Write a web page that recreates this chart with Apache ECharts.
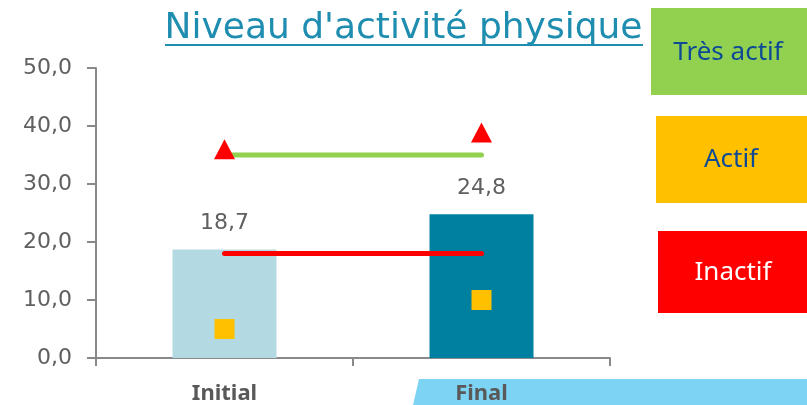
<!DOCTYPE html>
<html>
<head>
<meta charset="utf-8">
<script src="https://cdn.jsdelivr.net/npm/echarts@6/dist/echarts.min.js"></script>
<style>
  html, body { margin: 0; padding: 0; background: #fff; }
  #chart { width: 807px; height: 405px; }
</style>
</head>
<body>
<div id="chart"></div>
<script>
// data
var categories = ['Initial', 'Final'];
var moyenne = [18.7, 24.8];        // bars
var tresActif = [36.0, 38.9];      // red triangles
var actif = [5.0, 10.0];           // orange squares
var seuilHaut = [35, 35];          // green line
var seuilBas = [18, 18];           // red line
var yTicks = [0, 10, 20, 30, 40, 50];
var legendLabels = ['Très actif', 'Actif', 'Inactif'];

var barColors = ['#b3dae2', '#0080a0'];
var grey = '#595959';
var numFont = '"DejaVu Sans", sans-serif';
var txtFont = '"Noto Sans", "Open Sans", sans-serif';

function fr(v) {
  return v.toFixed(1).replace('.', ',');
}

var chartDom = document.getElementById('chart');
var myChart = echarts.init(chartDom);
var option;

option = {
  animation: false,
  title: {
    text: "Niveau d'activité physique",
    left: 'center',
    top: 6,
    textStyle: {
      color: '#1e8db0',
      fontSize: 36,
      fontWeight: 'normal',
      fontFamily: numFont
    }
  },
  grid: {
    left: 96,
    right: 197,
    top: 68,
    bottom: 47
  },
  xAxis: {
    type: 'category',
    data: categories,
    axisLine: { lineStyle: { color: '#898989', width: 2 } },
    axisTick: { show: true, length: 8, lineStyle: { color: '#898989', width: 2 } },
    axisLabel: {
      color: grey,
      fontSize: 22,
      fontWeight: 'bold',
      fontFamily: txtFont,
      margin: 25
    }
  },
  yAxis: {
    type: 'value',
    min: yTicks[0],
    max: yTicks[yTicks.length - 1],
    interval: 10,
    splitLine: { show: false },
    axisLine: { show: true, lineStyle: { color: '#898989', width: 2 } },
    axisTick: { show: true, length: 9, lineStyle: { color: '#898989', width: 2 } },
    axisLabel: {
      color: '#606060',
      fontSize: 22,
      fontFamily: numFont,
      margin: 24,
      formatter: function (v) { return fr(v); }
    }
  },
  graphic: [
    // underline of the title
    { type: 'line', shape: { x1: 165, y1: 45, x2: 643, y2: 45 },
      style: { stroke: '#1e8db0', lineWidth: 2 } },
    // ribbon behind "Final"
    { type: 'polygon', z: -1, shape: { points: [[419, 379], [807, 379], [807, 405], [413, 405]] },
      style: { fill: '#7dd3f3' } },
    // colour key boxes
    { type: 'rect', shape: { x: 651, y: 8, width: 156, height: 87 }, style: { fill: '#92d050' } },
    { type: 'text', x: 728, y: 53, style: { text: legendLabels[0], fill: '#0d4a96', fontSize: 26,
      fontFamily: txtFont, align: 'center', verticalAlign: 'middle' } },
    { type: 'rect', shape: { x: 656, y: 116, width: 151, height: 87 }, style: { fill: '#ffc000' } },
    { type: 'text', x: 731, y: 160, style: { text: legendLabels[1], fill: '#0d4a96', fontSize: 26,
      fontFamily: txtFont, align: 'center', verticalAlign: 'middle' } },
    { type: 'rect', shape: { x: 658, y: 231, width: 149, height: 82 }, style: { fill: '#ff0000' } },
    { type: 'text', x: 733, y: 273, style: { text: legendLabels[2], fill: '#ffffff', fontSize: 26,
      fontFamily: txtFont, align: 'center', verticalAlign: 'middle' } }
  ],
  series: [
    {
      type: 'bar',
      barWidth: 104,
      data: moyenne,
      itemStyle: {
        color: function (p) { return barColors[p.dataIndex]; }
      },
      label: {
        show: true,
        position: 'top',
        distance: 15,
        color: '#606060',
        fontSize: 22,
        fontFamily: numFont,
        formatter: function (p) { return fr(p.value); }
      }
    },
    {
      type: 'line',
      data: seuilHaut,
      symbol: 'none',
      lineStyle: { color: '#92d050', width: 5, cap: 'round' },
      z: 3
    },
    {
      type: 'line',
      data: seuilBas,
      symbol: 'none',
      lineStyle: { color: '#ff0000', width: 5, cap: 'round' },
      z: 3
    },
    {
      type: 'scatter',
      data: tresActif,
      symbol: 'triangle',
      symbolSize: [21, 20],
      itemStyle: { color: '#ff0000', opacity: 1 },
      z: 4
    },
    {
      type: 'scatter',
      data: actif,
      symbol: 'rect',
      symbolSize: 20,
      itemStyle: { color: '#ffc000', opacity: 1 },
      z: 4
    }
  ]
};

option && myChart.setOption(option);
</script>
</body>
</html>
